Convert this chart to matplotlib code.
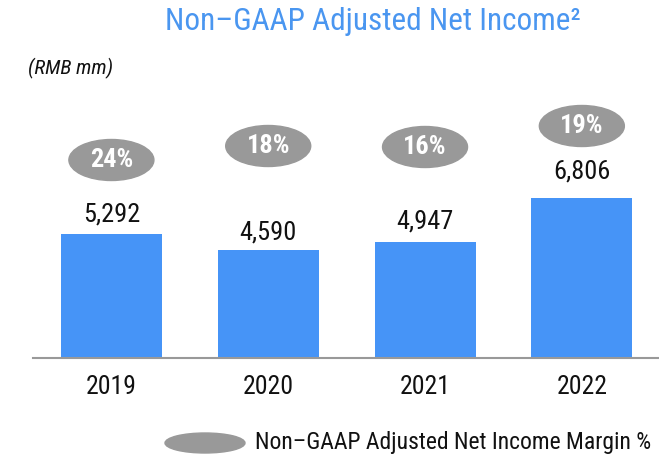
import matplotlib
matplotlib.use("Agg")
import matplotlib.pyplot as plt
from matplotlib.patches import Ellipse

# dados
years = ["2019", "2020", "2021", "2022"]
net_income = [5292, 4590, 4947, 6806]
margin = ["24%", "18%", "16%", "19%"]

# layout (pixels)
label_gap = [19, 18, 20, 27]
ellipse_py = [160, 146, 147, 126]

plt.rcParams["font.family"] = ["Roboto Condensed", "DejaVu Sans"]

W, H = 659, 458
fig = plt.figure(figsize=(W / 100, H / 100), dpi=100)
base_py = 358
ax = fig.add_axes([33 / W, (H - base_py) / H, (W - 33) / W, base_py / H])

px_per_unit = 0.02347
ax.set_ylim(0, base_py / px_per_unit)
ax.set_xlim(-0.5, 3.492)

bar_color = "#4694F7"
x = range(len(years))
ax.bar(x, net_income, width=0.644, color=bar_color, zorder=2)

for s in ["top", "right", "left"]:
    ax.spines[s].set_visible(False)
ax.spines["bottom"].set_color("#999999")
ax.spines["bottom"].set_linewidth(1.5)
ax.set_yticks([])
ax.set_xticks(list(x))
ax.set_xticklabels(years, fontsize=18.5, color="#111111")
ax.tick_params(axis="x", length=0, pad=12)

def py2data(py):
    return (base_py - py) / px_per_unit

for i, v in enumerate(net_income):
    ax.annotate(f"{v:,}", (i, v), xytext=(0, label_gap[i] * 0.72),
                textcoords="offset points", ha="center", va="center",
                fontsize=19, color="#111111")
    yc = py2data(ellipse_py[i])
    ax.add_patch(Ellipse((i, yc), 85 / 156.8, 41 / px_per_unit,
                         color="#999999", zorder=3, clip_on=False))
    ax.text(i, yc, margin[i], ha="center", va="center", fontsize=19,
            fontweight="bold", color="white", zorder=4)

# titulo
fig.text(373 / W, 1 - 22 / H, "Non\u2013GAAP Adjusted Net Income\u00b2",
         ha="center", va="center", fontsize=22.5, color="#4A96F0")
fig.text(28 / W, 1 - 68 / H, "(RMB mm)", ha="left", va="center",
         fontsize=15, style="italic", color="#111111")

# legenda
fig.add_artist(Ellipse((205 / W, 1 - 443 / H), 80 / W, 20 / H,
                       transform=fig.transFigure, color="#999999"))
fig.text(255 / W, 1 - 443 / H, "Non\u2013GAAP Adjusted Net Income Margin %",
         ha="left", va="center", fontsize=17, color="#111111")

fig.savefig("out.png", dpi=100)
